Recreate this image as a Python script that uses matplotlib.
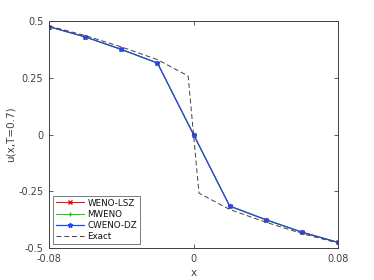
import numpy as np
import matplotlib
matplotlib.use('Agg')
from matplotlib import pyplot as plt

# numerical solutions (all three schemes give the same values on this grid)
x_num = [-0.08, -0.06, -0.04, -0.02, 0.0, 0.02, 0.04, 0.06, 0.08]
u_lsz = [0.475, 0.430, 0.375, 0.315, 0.0, -0.315, -0.375, -0.430, -0.475]
u_mweno = [0.475, 0.430, 0.375, 0.315, 0.0, -0.315, -0.375, -0.430, -0.475]
u_cweno = [0.475, 0.430, 0.375, 0.315, 0.0, -0.315, -0.375, -0.430, -0.475]

# exact solution
x_ex = [-0.08, -0.06, -0.04, -0.02, -0.003, 0.003, 0.02, 0.04, 0.06, 0.08]
u_ex = [0.478, 0.436, 0.386, 0.330, 0.258, -0.258, -0.330, -0.386, -0.436, -0.478]

xticks = [-0.08, 0, 0.08]
xticklabels = ['-0.08', '0', '0.08']
yticks = [-0.5, -0.25, 0, 0.25, 0.5]
yticklabels = ['-0.5', '-0.25', '0', '0.25', '0.5']

plt.rcParams['font.family'] = 'DejaVu Sans'
fig = plt.figure(figsize=(3.74, 2.8), dpi=100)
ax = fig.add_axes([0.131, 0.114, 0.773, 0.811])

ax.plot(x_num, u_lsz, color='red', marker='x', ms=3, lw=0.7, label='WENO-LSZ')
ax.plot(x_num, u_mweno, color='#00dd00', marker='+', ms=3.5, lw=0.7, label='MWENO')
ax.plot(x_num, u_cweno, color='#2448f0', marker='*', ms=3.5, lw=0.9, label='CWENO-DZ')
ax.plot(x_ex, u_ex, color='#404040', ls=(0, (5, 3)), lw=0.7, label='Exact')

ax.set_xlim(-0.08, 0.08)
ax.set_ylim(-0.5, 0.5)
ax.set_xticks(xticks)
ax.set_xticklabels(xticklabels)
ax.set_yticks(yticks)
ax.set_yticklabels(yticklabels)
ax.tick_params(direction='in', length=3, width=0.6, labelsize=7, colors='#404040',
               top=True, right=True, pad=4)
for s in ax.spines.values():
    s.set_color('#404040')
    s.set_linewidth(0.7)
ax.set_xlabel('x', fontsize=7.5, color='#404040', labelpad=3)
ax.set_ylabel('u(x,T=0.7)', fontsize=7.5, color='#404040', labelpad=2)

leg = ax.legend(loc='lower left', fontsize=6.3, frameon=True, fancybox=False,
                edgecolor='#404040', handlelength=3.2, borderpad=0.3,
                labelspacing=0.25, handletextpad=0.4, borderaxespad=0.5)
leg.get_frame().set_linewidth(0.6)
for t in leg.get_texts():
    t.set_color('#111111')

fig.savefig('out.png', dpi=100)
